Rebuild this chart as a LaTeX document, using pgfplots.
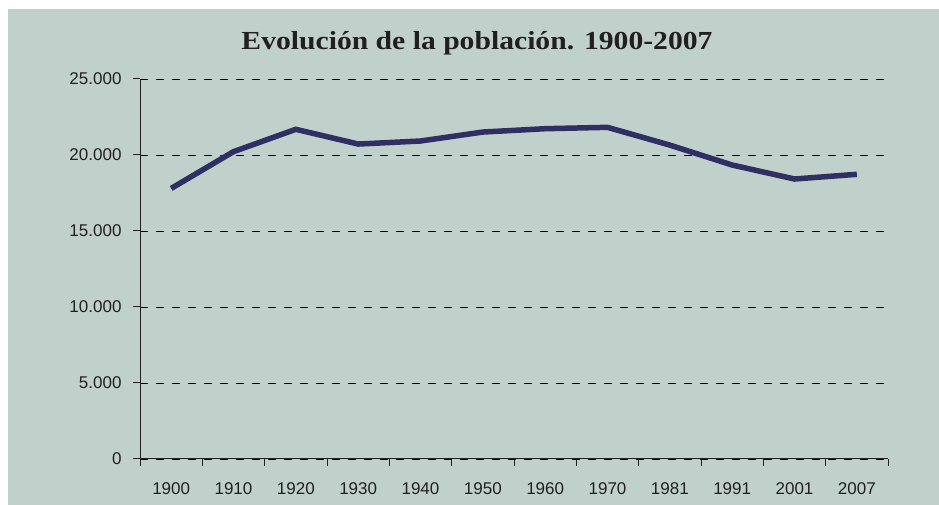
\documentclass[border=0pt]{standalone}
\usepackage{fontspec}
\setmainfont{Liberation Sans}
\newfontfamily\titlefont{Liberation Serif}
\usepackage{pgfplots}
\pgfplotsset{compat=1.18}
\definecolor{bgc}{HTML}{BFD1CA}
\definecolor{linec}{HTML}{2F2F63}
\definecolor{txt}{HTML}{231F20}
\begin{document}
\begin{tikzpicture}
\useasboundingbox (0pt,0pt) rectangle (939pt,505pt);
\fill[white] (0pt,0pt) rectangle (939pt,505pt);
\fill[bgc] (8pt,-3pt) rectangle (942pt,496pt);
\node[anchor=center,text=txt,font=\titlefont\bfseries\fontsize{26}{30}\selectfont] at (477pt,462pt) {\scalebox{1.14}[1]{Evolución de la población. 1900-2007}};
\begin{axis}[
  at={(140pt,46pt)}, anchor=south west,
  scale only axis, width=748pt, height=380pt,
  xmin=0, xmax=12, ymin=0, ymax=25000,
  axis lines*=left,
  axis line style={txt, line width=1pt},
  xtick={0.5,1.5,...,11.5},
  xticklabels={1900,1910,1920,1930,1940,1950,1960,1970,1981,1991,2001,2007},
  minor xtick={0,1,...,12},
  ytick={0,5000,...,25000},
  major tick length=7pt, minor tick length=7pt,
  tick align=outside,
  tick style={txt, line width=1pt},
  xtick style={draw=none},
  minor x tick style={draw=txt, line width=1pt},
  ymajorgrids,
  major grid style={black, dash pattern=on 8pt off 8pt, line width=0.8pt},
  /pgf/number format/assume math mode=true,
  /pgf/number format/1000 sep={.},
  scaled y ticks=false,
  tick label style={font=\fontsize{17}{20}\selectfont, text=txt},
  xticklabel style={yshift=-13pt},
  yticklabel style={xshift=-8pt},
  clip=false,
]
\addplot[linec, line width=5.5pt] coordinates {
(0.5,17800) (1.5,20220) (2.5,21690) (3.5,20720) (4.5,20920) (5.5,21510)
(6.5,21730) (7.5,21820) (8.5,20650) (9.5,19340) (10.5,18420) (11.5,18730)
};
\end{axis}
\end{tikzpicture}
\end{document}
